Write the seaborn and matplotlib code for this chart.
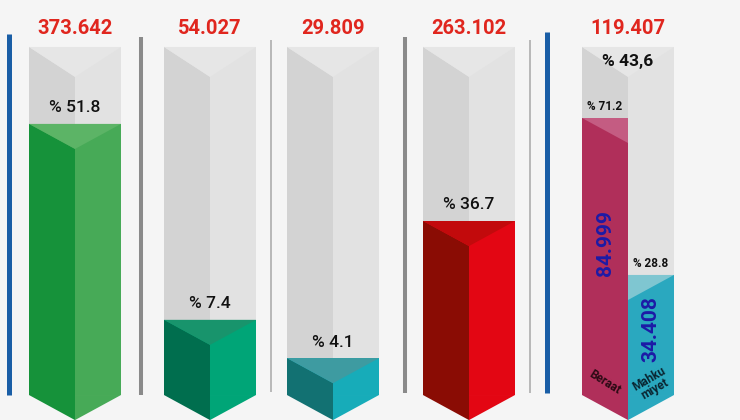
import numpy as np
import pandas as pd
import matplotlib
matplotlib.use("Agg")
import matplotlib.pyplot as plt
from matplotlib.patches import Polygon
import seaborn as sns

# values shown on the columns
totals = [373642, 54027, 29809, 263102, 119407]
share_text = ["% 51.8", "% 7.4", "% 4.1", "% 36.7", "% 43,6"]
# visual fill height of the first four columns, % of the tube
fill_levels = [77.9, 21.6, 10.6, 50.0]

# last column is split in two
verdicts = ["Beraat", "Mahku\nmiyet"]
verdict_counts = [84999, 34408]
verdict_shares = [71.2, 28.8]
verdict_levels = [79.6, 34.5]

# layout, x in pixel units
centers = [75, 210, 333, 469, 628]
BAR_W = 92
TIP = -7.2       # bottom point of the chevron
DT, DF = 8.6, 7.2  # depth of the top faces (tube / fill)

BG = "#f5f5f5"
GRAY = ("#d3d3d3", "#e2e2e2", "#e6e6e6")   # left, right, top
FILLS = [("#16923a", "#47aa57", "#5cb466"),
         ("#006e4e", "#00a577", "#18946c"),
         ("#127172", "#17acb9", "#3e9ba1"),
         ("#8a0c04", "#e30613", "#c20a0c")]
VERDICT_COLORS = [("#b02f5a", "#c45c82"), ("#2aa8bf", "#7fc6d1")]
RED = "#e0261e"
NAVY = "#1c1aa6"

sns.set_theme(style="white")
plt.rcParams["font.family"] = ["Roboto", "DejaVu Sans"]

fig = plt.figure(figsize=(7.4, 4.2), dpi=100, facecolor=BG)
ax = fig.add_axes([0, 0, 1, 1])
ax.set_facecolor(BG)


def add_bars(xs, levels, width_px, color, zorder):
    n0 = len(ax.patches)
    step = np.diff(sorted(xs)).min()
    df = pd.DataFrame({"x": xs, "level": levels})
    sns.barplot(data=df, x="x", y="level", native_scale=True,
                width=width_px / step, color=color, saturation=1,
                linewidth=0, errorbar=None, ax=ax)
    new = ax.patches[n0:]
    for p in new:
        p.set_zorder(zorder)
    return new


def poly(pts, color, zorder):
    ax.add_patch(Polygon(pts, closed=True, facecolor=color,
                         edgecolor="none", zorder=zorder))


# gray tubes
for p in add_bars(centers, [100] * len(centers), BAR_W, GRAY[1], 1):
    x0, w, top = p.get_x(), p.get_width(), p.get_height()
    xm = x0 + w / 2
    poly([(x0, top), (xm, top - DT), (xm, 0), (x0, 0)], GRAY[0], 2)
    poly([(x0, top), (x0 + w, top), (xm, top - DT)], GRAY[2], 2)

# filled columns
fill_bars = add_bars(centers[:4], fill_levels, BAR_W, GRAY[1], 3)
for p, (c_left, c_right, c_top) in zip(fill_bars, FILLS):
    p.set_facecolor(c_right)
    x0, w, top = p.get_x(), p.get_width(), p.get_height()
    xm, x1 = x0 + w / 2, x0 + w
    poly([(x0, top), (xm, top - DF), (xm, TIP), (x0, 0)], c_left, 4)
    poly([(xm, 0), (x1, 0), (xm, TIP)], c_right, 4)
    poly([(x0, top), (x1, top), (xm, top - DF)], c_top, 4)

# split column
half_x = [centers[4] - BAR_W / 4, centers[4] + BAR_W / 4]
half_bars = add_bars(half_x, verdict_levels, BAR_W / 2, GRAY[1], 3)
for i, (p, (c_body, c_top)) in enumerate(zip(half_bars, VERDICT_COLORS)):
    p.set_facecolor(c_body)
    x0, w, top = p.get_x(), p.get_width(), p.get_height()
    x1 = x0 + w
    if i == 0:
        poly([(x0, 0), (x1, 0), (x1, TIP)], c_body, 4)
        poly([(x0, top), (x1, top), (x1, top - DF)], c_top, 4)
    else:
        poly([(x0, 0), (x1, 0), (x0, TIP)], c_body, 4)
        poly([(x0, top), (x1, top), (x0, top - DF)], c_top, 4)

# separators
ax.vlines([9, 547], [0, 0.6], [103.7, 104.3], color="#1a5ea6", lw=3.6, zorder=1)
ax.vlines([141, 405], [0, 0.6], [102.9, 102.9], color="#8a8a8a", lw=2.9, zorder=1)
ax.vlines([271, 530], [0.9, 0.6], [102, 102], color="#a8a8a8", lw=1.1, zorder=1)

# texts
for c, v in zip(centers, totals):
    ax.text(c, 105.4, f"{v:,}".replace(",", "."), ha="center", va="center",
            color=RED, fontsize=14.5, fontweight="bold", zorder=6)
for c, lvl, s in zip(centers[:4], fill_levels, share_text[:4]):
    ax.text(c, lvl + 4.6, s, ha="center", va="center", color="#111111",
            fontsize=12.5, fontweight="medium", zorder=6)
ax.text(centers[4], 95.7, share_text[4], ha="center", va="center",
        color="#111111", fontsize=12.5, fontweight="bold", zorder=6)

for x, lvl, s in zip(half_x, verdict_levels, verdict_shares):
    ax.text(x, lvl + 3.2, f"% {s}", ha="center", va="center",
            color="#111111", fontsize=8.5, fontweight="bold", zorder=6)
for x, lvl, n in zip(half_x, verdict_levels, verdict_counts):
    ax.text(x, lvl * 0.55, f"{n:,}".replace(",", "."), ha="center",
            va="center", rotation=90, color=NAVY, fontsize=15,
            fontweight="bold", zorder=6)
ax.text(half_x[0], 3.6, verdicts[0], ha="center", va="center", rotation=-32,
        color="#2a0a14", fontsize=8.5, fontweight="bold", zorder=6)
ax.text(half_x[1] + 1, 3.2, verdicts[1], ha="center", va="center", rotation=30,
        color="#0a2430", fontsize=8.5, fontweight="bold", linespacing=0.9,
        zorder=6)

ax.set_xlim(0, 740)
ax.set_ylim(-7.18, 113.5)
ax.axis("off")

fig.savefig("out.png", dpi=100, facecolor=BG)
